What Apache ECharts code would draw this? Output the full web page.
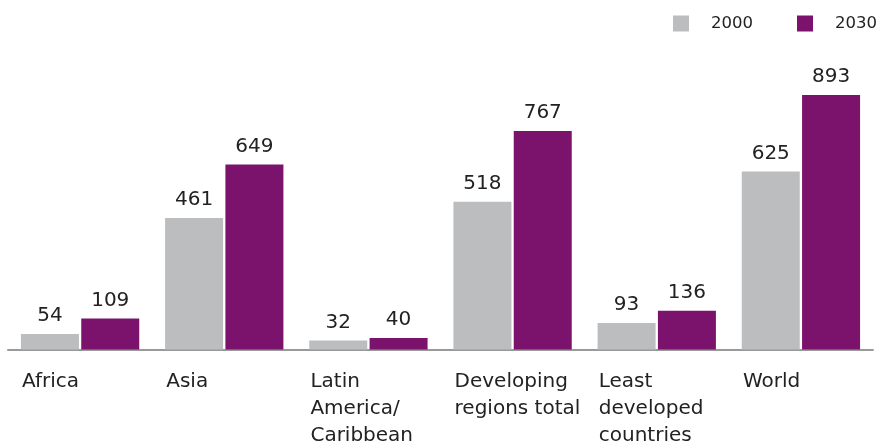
<!DOCTYPE html>
<html><head><meta charset="utf-8">
<script src="https://cdn.jsdelivr.net/npm/echarts@6/dist/echarts.min.js"></script>
<style>html,body{margin:0;padding:0;background:#fff}#c{width:893px;height:445px}</style>
</head><body><div id="c"></div>
<script>
const categories = ['Africa', 'Asia', 'Latin\nAmerica/\nCaribbean', 'Developing\nregions total', 'Least\ndeveloped\ncountries', 'World'];
const values2000 = [54, 461, 32, 518, 93, 625];
const values2030 = [109, 649, 40, 767, 136, 893];
const seriesNames = ['2000', '2030'];

const FONT = '"DejaVu Sans", Arial, sans-serif';
const chart = echarts.init(document.getElementById('c'), null, {renderer: 'canvas'});
const labelStyle = {show: true, position: 'top', distance: 8, fontSize: 20, color: '#222', fontFamily: FONT};
chart.setOption({
  animation: false,
  textStyle: {fontFamily: FONT},
  legend: {
    right: 11, top: 10, itemWidth: 16, itemHeight: 16, itemGap: 44,
    icon: 'rect',
    textStyle: {fontSize: 16.5, color: '#222', fontFamily: FONT, padding: [0, 0, 0, 17]},
    data: seriesNames
  },
  grid: {left: 8, right: 20, top: 64.5, bottom: 95.5, containLabel: false, outerBoundsMode: 'none'},
  xAxis: {
    type: 'category', data: categories,
    axisLine: {lineStyle: {color: '#9a9a9a', width: 2}},
    axisTick: {show: false},
    axisLabel: {
      interval: 0, align: 'left', verticalAlign: 'top', margin: 19,
      fontSize: 20, lineHeight: 27, color: '#222', fontFamily: FONT,
      padding: [0, 0, 0, -58]
    }
  },
  yAxis: {type: 'value', min: 0, max: 1000, show: false, splitLine: {show: false}},
  series: [
    {name: seriesNames[0], type: 'bar', data: values2000, barWidth: 58, barGap: '4%',
     itemStyle: {color: '#bcbdbf'}, label: labelStyle},
    {name: seriesNames[1], type: 'bar', data: values2030, barWidth: 58,
     itemStyle: {color: '#7b126b'}, label: labelStyle}
  ]
});
</script></body></html>
